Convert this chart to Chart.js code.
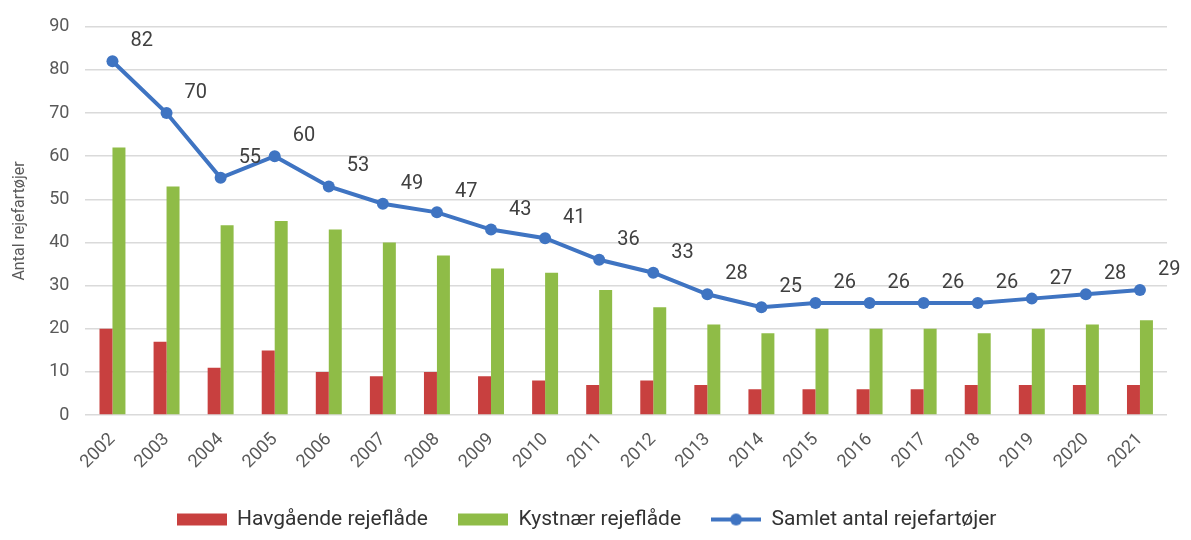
<!DOCTYPE html>
<html>
<head>
<meta charset="utf-8">
<script src="https://cdn.jsdelivr.net/npm/chart.js@4"></script>
<style>
  html, body { margin: 0; padding: 0; background: #fff; }
  #wrap { width: 1191px; height: 540px; }
</style>
</head>
<body>
<div id="wrap"><canvas id="grafico"></canvas></div>
<script>
const years = ['2002','2003','2004','2005','2006','2007','2008','2009','2010','2011',
               '2012','2013','2014','2015','2016','2017','2018','2019','2020','2021'];
const havgaende = [20, 17, 11, 15, 10, 9, 10, 9, 8, 7, 8, 7, 6, 6, 6, 6, 7, 7, 7, 7];
const kystnaer  = [62, 53, 44, 45, 43, 40, 37, 34, 33, 29, 25, 21, 19, 20, 20, 20, 19, 20, 21, 22];
const samlet    = [82, 70, 55, 60, 53, 49, 47, 43, 41, 36, 33, 28, 25, 26, 26, 26, 26, 27, 28, 29];

const RED = '#c8403f', GREEN = '#8fbc47', BLUE = '#3f74c2';
const FONT = 'Roboto, "Open Sans", sans-serif';

// små billeder til legenden
function legendIcon(kind, color) {
    const c = document.createElement('canvas');
    c.width = 50; c.height = 14;
    const g = c.getContext('2d');
    if (kind === 'bar') {
        g.fillStyle = color;
        g.fillRect(0, 1, 50, 12);
    } else {
        g.strokeStyle = color;
        g.lineWidth = 4;
        g.beginPath(); g.moveTo(0, 7); g.lineTo(50, 7); g.stroke();
        g.fillStyle = color;
        g.beginPath(); g.arc(25, 7, 6, 0, Math.PI * 2); g.fill();
    }
    return c;
}

// værdier ved linjens punkter
const lineLabels = {
    id: 'lineLabels',
    afterDatasetsDraw(chart) {
        const meta = chart.getDatasetMeta(0);
        const ctx = chart.ctx;
        ctx.save();
        ctx.font = '20px ' + FONT;
        ctx.fillStyle = '#404040';
        ctx.textAlign = 'left';
        ctx.textBaseline = 'middle';
        meta.data.forEach((pt, i) => {
            ctx.fillText(String(samlet[i]), pt.x + 18, pt.y - 20);
        });
        ctx.restore();
    }
};

const ctx = document.getElementById('grafico');
new Chart(ctx, {
    data: {
        labels: years,
        datasets: [
            {
                type: 'line',
                label: 'Samlet antal rejefartøjer',
                data: samlet,
                borderColor: BLUE,
                backgroundColor: BLUE,
                borderWidth: 4,
                pointRadius: 6,
                pointBackgroundColor: BLUE,
                pointBorderWidth: 0,
                order: 0
            },
            {
                type: 'bar',
                label: 'Havgående rejeflåde',
                data: havgaende,
                backgroundColor: RED,
                categoryPercentage: 0.48,
                barPercentage: 1,
                order: 1
            },
            {
                type: 'bar',
                label: 'Kystnær rejeflåde',
                data: kystnaer,
                backgroundColor: GREEN,
                categoryPercentage: 0.48,
                barPercentage: 1,
                order: 1
            }
        ]
    },
    options: {
        responsive: true,
        maintainAspectRatio: false,
        animation: false,
        layout: { padding: { top: 20, right: 24, left: 6, bottom: 0 } },
        plugins: {
            legend: {
                position: 'bottom',
                labels: {
                    font: { family: FONT, size: 21 },
                    color: '#333',
                    usePointStyle: true,
                    pointStyleWidth: 50,
                    padding: 30,
                    generateLabels(chart) {
                        return [
                            { text: 'Havgående rejeflåde', pointStyle: legendIcon('bar', RED), datasetIndex: 1, fontColor: '#333', lineWidth: 0 },
                            { text: 'Kystnær rejeflåde', pointStyle: legendIcon('bar', GREEN), datasetIndex: 2, fontColor: '#333', lineWidth: 0 },
                            { text: 'Samlet antal rejefartøjer', pointStyle: legendIcon('line', BLUE), datasetIndex: 0, fontColor: '#333', lineWidth: 0 }
                        ];
                    }
                }
            },
            tooltip: { enabled: false }
        },
        scales: {
            x: {
                grid: { display: false },
                border: { display: false },
                ticks: {
                    font: { family: FONT, size: 18 },
                    color: '#595959',
                    maxRotation: 45,
                    minRotation: 45,
                    padding: 6
                }
            },
            y: {
                min: 0,
                max: 90,
                ticks: {
                    stepSize: 10,
                    font: { family: FONT, size: 18 },
                    color: '#595959',
                    padding: 16
                },
                grid: { color: '#dadada', lineWidth: 1.5, drawTicks: false },
                border: { display: false },
                title: {
                    display: true,
                    text: 'Antal rejefartøjer',
                    font: { family: FONT, size: 16 },
                    color: '#595959'
                }
            }
        }
    },
    plugins: [lineLabels]
});
</script>
</body>
</html>
